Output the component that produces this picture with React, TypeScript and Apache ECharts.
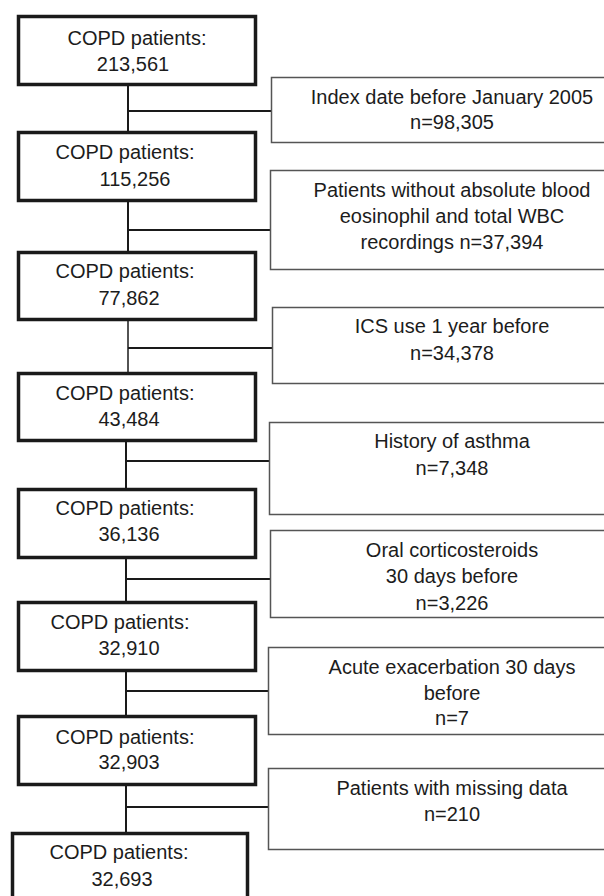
import React, { useEffect, useRef } from "react";
import * as echarts from "echarts";

// ---- data ----
const mainLabel = "COPD patients:";
const remainingPatients = [213561, 115256, 77862, 43484, 36136, 32910, 32903, 32693];
const exclusionTexts = [
  ["Index date before January 2005", "n={n}"],
  ["Patients without absolute blood", "eosinophil and total WBC", "recordings n={n}"],
  ["ICS use 1 year before", "n={n}"],
  ["History of asthma", "n={n}"],
  ["Oral corticosteroids", "30 days before", "n={n}"],
  ["Acute exacerbation 30 days", "before", "n={n}"],
  ["Patients with missing data", "n={n}"],
];
const excludedCounts = [98305, 37394, 34378, 7348, 3226, 7, 210];

// ---- layout (positions only) ----
const mainTops = [15, 131, 251, 372, 488, 601, 715, 832];
const mainHeights = [71, 71, 70, 70, 71, 71, 71, 90];
const mainLefts = [17, 17, 17, 17, 17, 17, 17, 11];
const mainRights = [257, 257, 257, 257, 257, 257, 257, 249];
const mainLineY = [[38, 64], [152, 179], [271, 298], [393, 419], [508, 534], [622, 648], [737, 762], [852, 879]];
const mainLineX = [[137, 133], [125, 135], [125, 129], [125, 129], [125, 129], [120, 129], [125, 129], [119, 122]];
const spineX = [128, 128, 128, 126, 126, 126, 126];
const sideTops = [77, 170, 307, 422, 530, 647, 768];
const sideBottoms = [143, 270, 384, 515, 618, 735, 850];
const sideLefts = [271, 270, 272, 269, 270, 268, 268];
const branchY = [111, 230, 348, 461, 579, 691, 807];
const sideLineY = [[97, 122], [190, 216, 242], [326, 353], [441, 468], [550, 576, 603], [667, 693, 718], [788, 814]];
const sideTextX = 452;

const FONT = "20px 'Liberation Sans', Arial, Helvetica, sans-serif";
const TEXT_COLOR = "#1c1c1c";

function fmt(v: number) {
  return v.toLocaleString("en-US");
}

function textEl(x: number, y: number, t: string) {
  return {
    type: "text",
    x,
    y,
    silent: true,
    style: {
      text: t,
      font: FONT,
      fill: TEXT_COLOR,
      align: "center",
      verticalAlign: "middle",
      textAlign: "center",
      textVerticalAlign: "middle",
    },
  };
}

export default function App() {
  const ref = useRef<HTMLDivElement>(null);
  useEffect(() => {
    if (!ref.current) return;
    const chart = echarts.init(ref.current, undefined, { renderer: "svg" });
    const els: any[] = [];

    // connectors
    for (let i = 0; i < excludedCounts.length; i++) {
      const y1 = mainTops[i] + mainHeights[i];
      const y2 = mainTops[i + 1];
      els.push({
        type: "line",
        shape: { x1: spineX[i], y1, x2: spineX[i], y2 },
        style: { stroke: "#1a1a1a", lineWidth: i === 2 ? 1.5 : 2 },
      });
      els.push({
        type: "line",
        shape: { x1: spineX[i], y1: branchY[i], x2: sideLefts[i], y2: branchY[i] },
        style: { stroke: "#1a1a1a", lineWidth: 2 },
      });
    }

    // main boxes
    remainingPatients.forEach((v, i) => {
      els.push({
        type: "rect",
        shape: {
          x: mainLefts[i] + 1.5,
          y: mainTops[i] + 1.5,
          width: mainRights[i] - mainLefts[i] - 3,
          height: mainHeights[i] - 3,
        },
        style: { fill: "#ffffff", stroke: "#1a1a1a", lineWidth: 3.5 },
      });
      els.push(textEl(mainLineX[i][0], mainLineY[i][0], mainLabel));
      els.push(textEl(mainLineX[i][1], mainLineY[i][1], fmt(v)));
    });

    // side (exclusion) boxes
    excludedCounts.forEach((n, i) => {
      els.push({
        type: "rect",
        shape: {
          x: sideLefts[i] + 0.5,
          y: sideTops[i] + 0.5,
          width: 400,
          height: sideBottoms[i] - sideTops[i] - 1,
        },
        style: { fill: "#ffffff", stroke: "#555555", lineWidth: 1.5 },
      });
      exclusionTexts[i].forEach((line, j) => {
        els.push(textEl(sideTextX, sideLineY[i][j], line.replace("{n}", fmt(n))));
      });
    });

    chart.setOption({
      animation: false,
      backgroundColor: "#ffffff",
      graphic: { elements: els },
    });
    return () => chart.dispose();
  }, []);

  return (
    <div
      ref={ref}
      style={{ position: "fixed", left: 0, top: 0, width: 604, height: 896, background: "#fff" }}
    />
  );
}
